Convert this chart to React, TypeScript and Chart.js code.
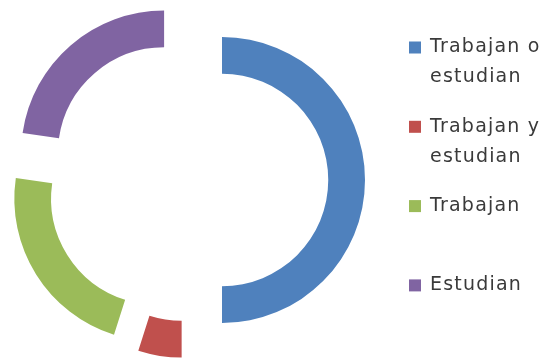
import React, { useEffect, useRef } from "react";
import { Chart, registerables } from "chart.js";

Chart.register(...registerables);

const categories = ["Trabajan o estudian", "Trabajan y estudian", "Trabajan", "Estudian"];
const values = [50.0, 4.9, 22.4, 22.7];
const colors = ["#4F81BD", "#C0504D", "#9BBB59", "#8064A2"];

const EXPLODE = 35; // radial displacement of each slice, px

// Moves each arc outward along its own mid-angle (Excel-style exploded slices)
const explodePlugin = {
  id: "explode",
  beforeDatasetsDraw(chart: any) {
    const area = chart.chartArea;
    const cx = (area.left + area.right) / 2;
    const cy = (area.top + area.bottom) / 2;
    chart.getSortedVisibleDatasetMetas().forEach((meta: any) => {
      meta.data.forEach((el: any) => {
        const mid = (el.startAngle + el.endAngle) / 2;
        el.x = cx + Math.cos(mid) * EXPLODE;
        el.y = cy + Math.sin(mid) * EXPLODE;
      });
    });
  },
};

const legendPlugin = {
  id: "sideLegend",
  afterDraw(chart: any) {
    const ctx = chart.ctx as CanvasRenderingContext2D;
    const labels: string[] = chart.data.labels;
    const bg: string[] = chart.data.datasets[0].backgroundColor;
    ctx.save();
    ctx.font = "19px 'DejaVu Sans'";
    (ctx as any).letterSpacing = "1.2px";
    ctx.textBaseline = "middle";
    ctx.textAlign = "left";
    const boxX = 409;
    const textX = 430;
    const maxW = 125;
    labels.forEach((label, i) => {
      const y = 47.5 + i * 79.3;
      ctx.fillStyle = bg[i];
      ctx.fillRect(boxX, y - 6, 12, 12);
      const words = label.split(" ");
      const lines: string[] = [];
      let cur = "";
      words.forEach((w) => {
        const test = cur ? cur + " " + w : w;
        if (ctx.measureText(test).width > maxW && cur) {
          lines.push(cur);
          cur = w;
        } else {
          cur = test;
        }
      });
      if (cur) lines.push(cur);
      ctx.fillStyle = "#3a3a3a";
      lines.forEach((ln, j) => {
        ctx.fillText(ln, textX, y + j * 30);
      });
    });
    ctx.restore();
  },
};

export default function App() {
  const ref = useRef<HTMLCanvasElement | null>(null);
  useEffect(() => {
    if (!ref.current) return;
    const chart = new Chart(ref.current, {
      type: "doughnut",
      data: {
        labels: categories,
        datasets: [
          {
            data: values,
            backgroundColor: colors,
            borderWidth: 0,
            clip: false as any,
          } as any,
        ],
      },
      options: {
        responsive: false,
        animation: false,
        devicePixelRatio: 1,
        radius: 143,
        cutout: "74.3%",
        layout: { padding: { left: 0, right: 171, top: 0, bottom: 0 } },
        plugins: {
          legend: { display: false },
          tooltip: { enabled: false },
        },
        events: [],
      } as any,
      plugins: [explodePlugin, legendPlugin],
    });
    return () => chart.destroy();
  }, []);
  return (
    <div style={{ position: "fixed", left: 0, top: 0, width: 545, height: 360, background: "#fff" }}>
      <canvas ref={ref} width={545} height={360} />
    </div>
  );
}
